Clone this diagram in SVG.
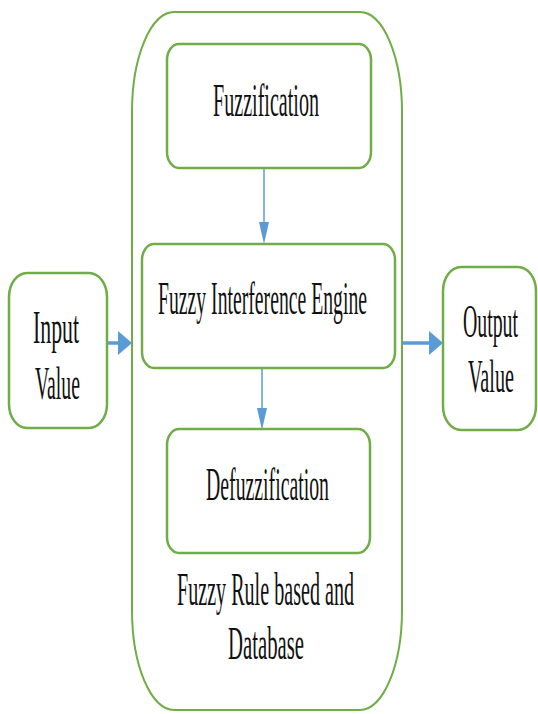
<svg xmlns="http://www.w3.org/2000/svg" width="538" height="714" viewBox="0 0 538 714">
  <style>
    .box { fill: #ffffff; stroke: #70AD47; stroke-width: 2.5; }
    .outer { fill: #ffffff; stroke: #70AD47; stroke-width: 2; }
    .lbl { font-family: "Liberation Serif", "Times New Roman", serif; font-size: 23.5px; fill: #111111; }
    .thin { stroke: #5B9BD5; stroke-width: 1.5; fill: none; }
    .thick { stroke: #5B9BD5; stroke-width: 3.5; fill: none; }
  </style>
  <defs>
    <marker id="headV" markerUnits="userSpaceOnUse" markerWidth="30" markerHeight="30" refX="0" refY="0" viewBox="0 -15 30 30" orient="auto">
      <path d="M0,-5 L22,0 L0,5 Z" fill="#5B9BD5"/>
    </marker>
    <marker id="headH" markerUnits="userSpaceOnUse" markerWidth="30" markerHeight="30" refX="0" refY="0" viewBox="0 -15 30 30" orient="auto">
      <path d="M0,-12 L14,0 L0,12 Z" fill="#5B9BD5"/>
    </marker>
  </defs>

  <g id="container">
    <rect class="outer" x="132" y="12" width="270" height="698" rx="42" ry="100"/>
    <text class="lbl" transform="translate(177,605) scale(1,2)" textLength="177" lengthAdjust="spacingAndGlyphs">Fuzzy Rule based and</text>
    <text class="lbl" transform="translate(228,659) scale(1,2)" textLength="76" lengthAdjust="spacingAndGlyphs">Database</text>
  </g>

  <g id="fuzzification">
    <rect class="box" x="167" y="44" width="204" height="124" rx="12" ry="16"/>
    <text class="lbl" transform="translate(213,116) scale(1,2)" textLength="106" lengthAdjust="spacingAndGlyphs">Fuzzification</text>
  </g>

  <g id="engine">
    <rect class="box" x="142" y="244" width="253" height="124" rx="12" ry="16"/>
    <text class="lbl" transform="translate(158,314) scale(1,2)" textLength="209" lengthAdjust="spacingAndGlyphs">Fuzzy Interference Engine</text>
  </g>

  <g id="defuzzification">
    <rect class="box" x="167" y="429" width="203" height="124" rx="12" ry="16"/>
    <text class="lbl" transform="translate(206,500) scale(1,2)" textLength="123" lengthAdjust="spacingAndGlyphs">Defuzzification</text>
  </g>

  <g id="input">
    <rect class="box" x="9" y="273" width="98" height="155" rx="18" ry="24"/>
    <text class="lbl" transform="translate(33,343) scale(1,2)" textLength="46" lengthAdjust="spacingAndGlyphs">Input</text>
    <text class="lbl" transform="translate(35,399) scale(1,2)" textLength="45" lengthAdjust="spacingAndGlyphs">Value</text>
  </g>

  <g id="output">
    <rect class="box" x="443" y="267" width="93" height="163" rx="18" ry="24"/>
    <text class="lbl" transform="translate(463,337) scale(1,2)" textLength="55" lengthAdjust="spacingAndGlyphs">Output</text>
    <text class="lbl" transform="translate(468,392) scale(1,2)" textLength="46" lengthAdjust="spacingAndGlyphs">Value</text>
  </g>

  <g id="connectors">
    <line class="thin" x1="264" y1="169" x2="264" y2="222" marker-end="url(#headV)"/>
    <line class="thin" x1="262" y1="369" x2="262" y2="408" marker-end="url(#headV)"/>
    <line class="thick" x1="108" y1="343" x2="118" y2="343" marker-end="url(#headH)"/>
    <line class="thick" x1="403" y1="343" x2="429" y2="343" marker-end="url(#headH)"/>
  </g>
</svg>
